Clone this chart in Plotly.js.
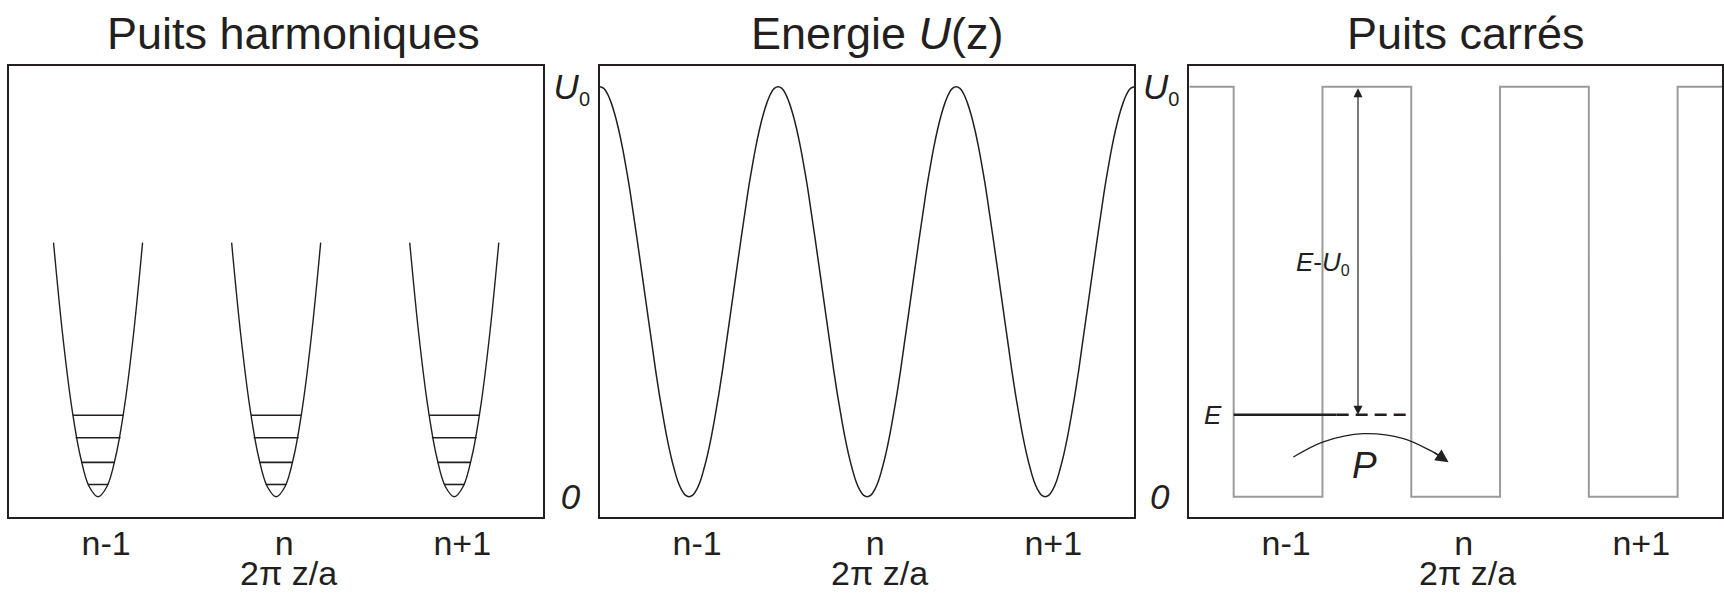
<!DOCTYPE html>
<html>
<head>
<meta charset="utf-8">
<script src="https://cdn.plot.ly/plotly-3.0.1.min.js"></script>
<style>
  html, body { margin: 0; padding: 0; background: #ffffff; }
  #chart { width: 1724px; height: 593px; }
</style>
</head>
<body>
<div id="chart"></div>
<script>
// Lattice sites (in units of 2πz/a) and their labels
const siteCenters = [-1, 0, 1];
const siteLabels = ['n-1', 'n', 'n+1'];

// Harmonic wells: shape of one well (offset from site, height in units of U0)
const wellOffsets = [-0.25, -0.2, -0.15, -0.1, -0.05, 0, 0.05, 0.1, 0.15, 0.2, 0.25];
const wellHeights = [0.62, 0.40, 0.225, 0.10, 0.025, 0, 0.025, 0.10, 0.225, 0.40, 0.62];
// Quantised levels inside each harmonic well and their half widths
const levelEnergies = [0.030, 0.084, 0.144, 0.199];
const levelHalfWidths = [0.058, 0.094, 0.126, 0.141];

// Periodic potential U(z): one period around a site (offset from site, U/U0)
const uOffsets = [-0.5, -0.479, -0.458, -0.438, -0.417, -0.396, -0.375, -0.354, -0.333, -0.313, -0.292, -0.271,
                  -0.25, -0.229, -0.208, -0.188, -0.167, -0.146, -0.125, -0.104, -0.083, -0.063, -0.042, -0.021,
                  0, 0.021, 0.042, 0.063, 0.083, 0.104, 0.125, 0.146, 0.167, 0.188, 0.208, 0.229,
                  0.25, 0.271, 0.292, 0.313, 0.333, 0.354, 0.375, 0.396, 0.417, 0.438, 0.458, 0.479, 0.5];
const uValues = [1, 0.996, 0.983, 0.962, 0.933, 0.897, 0.854, 0.804, 0.75, 0.691, 0.629, 0.565,
                 0.5, 0.435, 0.371, 0.309, 0.25, 0.196, 0.146, 0.103, 0.067, 0.038, 0.017, 0.004,
                 0, 0.004, 0.017, 0.038, 0.067, 0.103, 0.146, 0.196, 0.25, 0.309, 0.371, 0.435,
                 0.5, 0.565, 0.629, 0.691, 0.75, 0.804, 0.854, 0.897, 0.933, 0.962, 0.983, 0.996, 1];

// Square wells
const sqX = [-1.5, -1.25, -1.25, -0.75, -0.75, -0.25, -0.25, 0.25, 0.25, 0.75, 0.75, 1.25, 1.25, 1.5];
const sqY = [1, 1, 0, 0, 1, 1, 0, 0, 1, 1, 0, 0, 1, 1];

// Particle energy E, drawn solid inside the well and dashed through the barrier
const particleE = 0.2;
const eSolidX = [-1.25, -0.67];
const eDashX = [-0.67, -0.28];
// Position of the E-U0 gap arrow
const gapArrowX = -0.55;
// Hopping path P over the barrier
const hopX = [-0.914, -0.745, -0.52, -0.294, -0.144, -0.05];
const hopY = [0.097, 0.134, 0.154, 0.142, 0.113, 0.089];

const ink = '#231f20';
const FONT = '"Liberation Sans", Arial, Helvetica, sans-serif';

const traces = [];

// Harmonic wells
siteCenters.forEach(c => {
  traces.push({
    x: wellOffsets.map(o => c + o), y: wellHeights,
    type: 'scatter', mode: 'lines', xaxis: 'x', yaxis: 'y',
    line: { color: ink, width: 1.4, shape: 'spline', smoothing: 1 },
    hoverinfo: 'skip', showlegend: false
  });
});
const lvX = [], lvY = [];
siteCenters.forEach(c => {
  levelEnergies.forEach((e, i) => {
    lvX.push(c - levelHalfWidths[i], c + levelHalfWidths[i], null);
    lvY.push(e, e, null);
  });
});
traces.push({
  x: lvX, y: lvY, type: 'scatter', mode: 'lines', xaxis: 'x', yaxis: 'y',
  line: { color: ink, width: 1.6 }, hoverinfo: 'skip', showlegend: false
});

// Periodic potential, one period per site
const uX = [], uY = [];
siteCenters.forEach((c, k) => {
  uOffsets.forEach((o, j) => {
    if (k > 0 && j === 0) return;
    uX.push(c + o);
    uY.push(uValues[j]);
  });
});
traces.push({
  x: uX, y: uY, type: 'scatter', mode: 'lines', xaxis: 'x2', yaxis: 'y2',
  line: { color: ink, width: 1.5, shape: 'spline', smoothing: 1 },
  hoverinfo: 'skip', showlegend: false
});

// Square wells
traces.push({
  x: sqX, y: sqY, type: 'scatter', mode: 'lines', xaxis: 'x3', yaxis: 'y3',
  line: { color: '#9b9b9b', width: 2 }, hoverinfo: 'skip', showlegend: false
});
traces.push({
  x: eSolidX, y: [particleE, particleE], type: 'scatter', mode: 'lines', xaxis: 'x3', yaxis: 'y3',
  line: { color: ink, width: 2.6 }, hoverinfo: 'skip', showlegend: false
});
traces.push({
  x: eDashX, y: [particleE, particleE], type: 'scatter', mode: 'lines', xaxis: 'x3', yaxis: 'y3',
  line: { color: ink, width: 2.6, dash: '12px,7px' }, hoverinfo: 'skip', showlegend: false
});
traces.push({
  x: hopX, y: hopY, type: 'scatter', mode: 'lines', xaxis: 'x3', yaxis: 'y3',
  line: { color: ink, width: 1.3, shape: 'spline', smoothing: 1 },
  hoverinfo: 'skip', showlegend: false
});

const yDomain = [0.1277, 0.8882];
const xDomains = [[0.00522, 0.31514], [0.34803, 0.65794], [0.68985, 0.99884]];

function xAxis(i) {
  return {
    domain: xDomains[i], range: [-1.5, 1.5], anchor: i === 0 ? 'y' : 'y' + (i + 1),
    showline: true, mirror: true, linecolor: ink, linewidth: 2,
    ticks: '', showgrid: false, zeroline: false,
    tickmode: 'array', tickvals: siteCenters, ticktext: siteLabels,
    tickfont: { family: FONT, size: 34, color: ink },
    ticklabelshift: 8, ticklabelstandoff: -5, fixedrange: true
  };
}
function yAxis(i, labels) {
  return {
    domain: yDomain, range: [-0.05, 1.05], anchor: i === 0 ? 'x' : 'x' + (i + 1),
    showline: true, mirror: true, linecolor: ink, linewidth: 2,
    ticks: '', showgrid: false, zeroline: false,
    showticklabels: labels,
    tickmode: 'array', tickvals: [0, 1],
    ticktext: ['<i>0</i>\u00a0', '<i>U</i><sub><span style="font-size:20px">0</span></sub>'],
    tickfont: { family: FONT, size: 35, color: ink },
    ticklabelstandoff: 1, fixedrange: true
  };
}

const titleFont = { family: FONT, size: 45, color: ink };
const axisTitleFont = { family: FONT, size: 34, color: ink };
const panelTitles = ['Puits harmoniques', 'Energie <i>U</i>(z)', 'Puits carrés'];
const titleShift = [0.010, 0.006, 0.006];
const annotations = [];
panelTitles.forEach((t, i) => {
  const mid = (xDomains[i][0] + xDomains[i][1]) / 2;
  annotations.push({
    text: t, xref: 'paper', yref: 'paper', x: mid + titleShift[i], y: 0.944,
    xanchor: 'center', yanchor: 'middle', showarrow: false, font: titleFont
  });
  annotations.push({
    text: '2π z/a', xref: 'paper', yref: 'paper', x: mid + 0.007, y: 0.034,
    xanchor: 'center', yanchor: 'middle', showarrow: false, font: axisTitleFont
  });
});

// Gap arrow between E and U0
annotations.push({
  xref: 'x3', yref: 'y3', axref: 'x3', ayref: 'y3',
  x: gapArrowX, y: particleE, ax: gapArrowX, ay: 1,
  text: '', showarrow: true, arrowhead: 2, arrowside: 'end+start',
  arrowsize: 1.5, arrowwidth: 1.2, arrowcolor: ink, standoff: 0, startstandoff: 0
});
annotations.push({
  xref: 'x3', yref: 'y3', x: -0.745, y: 0.57,
  text: '<i>E</i>-<i>U</i><sub><span style="font-size:16px">0</span></sub>',
  showarrow: false, font: { family: FONT, size: 26, color: ink }
});
annotations.push({
  xref: 'x3', yref: 'y3', x: -1.365, y: particleE,
  text: '<i>E</i>', showarrow: false, font: { family: FONT, size: 26, color: ink }
});
annotations.push({
  xref: 'x3', yref: 'y3', x: -0.516, y: 0.077,
  text: '<i>P</i>', showarrow: false, font: { family: FONT, size: 37, color: ink }
});
// Head of the hopping arrow
annotations.push({
  xref: 'x3', yref: 'y3', x: hopX[hopX.length - 1] + 0.01, y: hopY[hopY.length - 1] - 0.005,
  ax: -16, ay: -11, text: '', showarrow: true, arrowhead: 2, arrowsize: 2,
  arrowwidth: 1.3, arrowcolor: ink, standoff: 0
});

const layout = {
  width: 1724, height: 593,
  margin: { l: 0, r: 0, t: 0, b: 0 },
  paper_bgcolor: '#ffffff', plot_bgcolor: '#ffffff',
  showlegend: false,
  font: { family: FONT, color: ink },
  xaxis: xAxis(0), xaxis2: xAxis(1), xaxis3: xAxis(2),
  yaxis: yAxis(0, false), yaxis2: yAxis(1, true), yaxis3: yAxis(2, true),
  annotations: annotations
};

Plotly.newPlot('chart', traces, layout, { staticPlot: true, displayModeBar: false });
</script>
</body>
</html>
